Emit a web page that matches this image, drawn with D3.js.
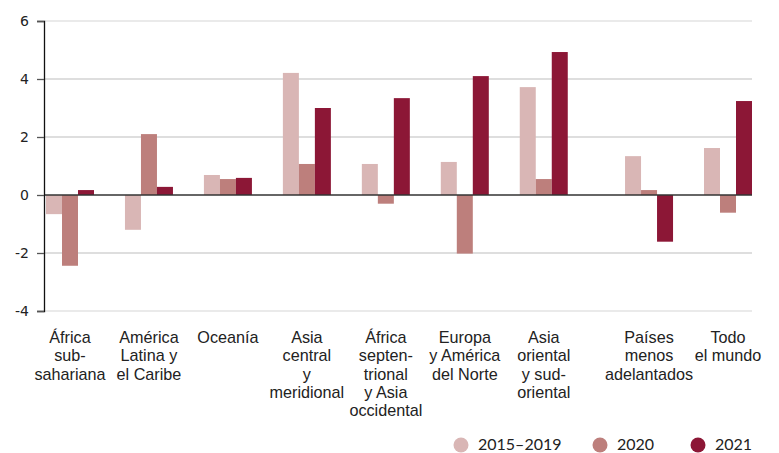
<!DOCTYPE html>
<html>
<head>
<meta charset="utf-8">
<script src="https://cdn.jsdelivr.net/npm/d3@7"></script>
<style>
  html, body { margin: 0; padding: 0; background: #fff; }
  svg { display: block; }
</style>
</head>
<body>
<svg id="chart" width="779" height="453"></svg>
<script>
// ---- Data ----
const categories = [
  ["África", "sub-", "sahariana"],
  ["América", "Latina y", "el Caribe"],
  ["Oceanía"],
  ["Asia", "central", "y", "meridional"],
  ["África", "septen-", "trional", "y Asia", "occidental"],
  ["Europa", "y América", "del Norte"],
  ["Asia", "oriental", "y sud-", "oriental"],
  ["Países", "menos", "adelantados"],
  ["Todo", "el mundo"]
];
const seriesNames = ["2015–2019", "2020", "2021"];
const values2015_2019 = [-0.66, -1.2, 0.69, 4.21, 1.07, 1.14, 3.72, 1.34, 1.62];
const values2020      = [-2.44, 2.1, 0.55, 1.07, -0.3, -2.02, 0.55, 0.17, -0.61];
const values2021      = [0.17, 0.28, 0.59, 3.0, 3.34, 4.1, 4.93, -1.61, 3.24];
const yTicks = [-4, -2, 0, 2, 4, 6];
const colors = ["#d9b6b5", "#bd7f7c", "#8c1736"];

const seriesValues = [values2015_2019, values2020, values2021];

// ---- Layout ----
const svg = d3.select("#chart");
const plotLeft = 44, plotRight = 752, plotTop = 21, plotBottom = 311;
const font = "Lato, 'Open Sans', sans-serif";
const labelFont = "'Liberation Sans', Arial, sans-serif";

const y = d3.scaleLinear().domain([-4, 6]).range([plotBottom, plotTop]);

// group slot positions: the last two groups (aggregates) are set slightly apart
const slot = categories.map((c, i) => i + (i >= 7 ? 1 / 3 : 0));
const x = d3.scaleLinear().domain([0, slot[slot.length - 1]]).range([46, 704]);
const barW = 16;

// gridlines
const grid = svg.append("g");
grid.selectAll("line").data(yTicks.filter(t => t !== 0)).join("line")
  .attr("x1", plotLeft).attr("x2", plotRight)
  .attr("y1", d => y(d)).attr("y2", d => y(d))
  .attr("stroke", d => (d === 6 || d === -4) ? "#d6d6d6" : "#bdbdbd")
  .attr("stroke-width", 1.2);

// bars
const barsG = svg.append("g");
seriesValues.forEach((vals, s) => {
  barsG.append("g").selectAll("rect").data(vals).join("rect")
    .attr("x", (d, i) => x(slot[i]) + s * barW)
    .attr("width", barW)
    .attr("y", d => y(Math.max(0, d)))
    .attr("height", d => Math.abs(y(d) - y(0)))
    .attr("fill", colors[s]);
});

// zero line
svg.append("line")
  .attr("x1", plotLeft).attr("x2", plotRight)
  .attr("y1", y(0)).attr("y2", y(0))
  .attr("stroke", "#333").attr("stroke-width", 1.6);

// y axis
const yAxis = d3.axisLeft(y).tickValues(yTicks).tickSize(7).tickPadding(8)
  .tickFormat(d => String(d));
const ya = svg.append("g").attr("transform", `translate(${plotLeft},0)`).call(yAxis);
ya.select(".domain").attr("stroke", "#111").attr("stroke-width", 1.3);
ya.selectAll(".tick line").attr("stroke", "#555").attr("stroke-width", 1.3);
ya.selectAll(".tick text")
  .attr("font-family", "'DejaVu Sans', sans-serif")
  .attr("font-size", 14).attr("fill", "#222");

// category labels
const lab = svg.append("g");
categories.forEach((lines, i) => {
  const cx = x(slot[i]) + barW * 1.5;
  const t = lab.append("text")
    .attr("text-anchor", "middle")
    .attr("font-family", labelFont).attr("font-size", 16.2).attr("fill", "#222");
  lines.forEach((ln, k) => {
    t.append("tspan").attr("x", cx).attr("y", 343 + k * 18.3).text(ln);
  });
});

// legend
const legendX = [461, 600, 698];
const leg = svg.append("g");
seriesNames.forEach((name, s) => {
  leg.append("circle").attr("cx", legendX[s]).attr("cy", 445).attr("r", 7.5).attr("fill", colors[s]);
  leg.append("text").attr("x", legendX[s] + 17).attr("y", 449.5)
    .attr("font-family", font).attr("font-size", 16).attr("fill", "#222").text(name);
});
</script>
</body>
</html>
